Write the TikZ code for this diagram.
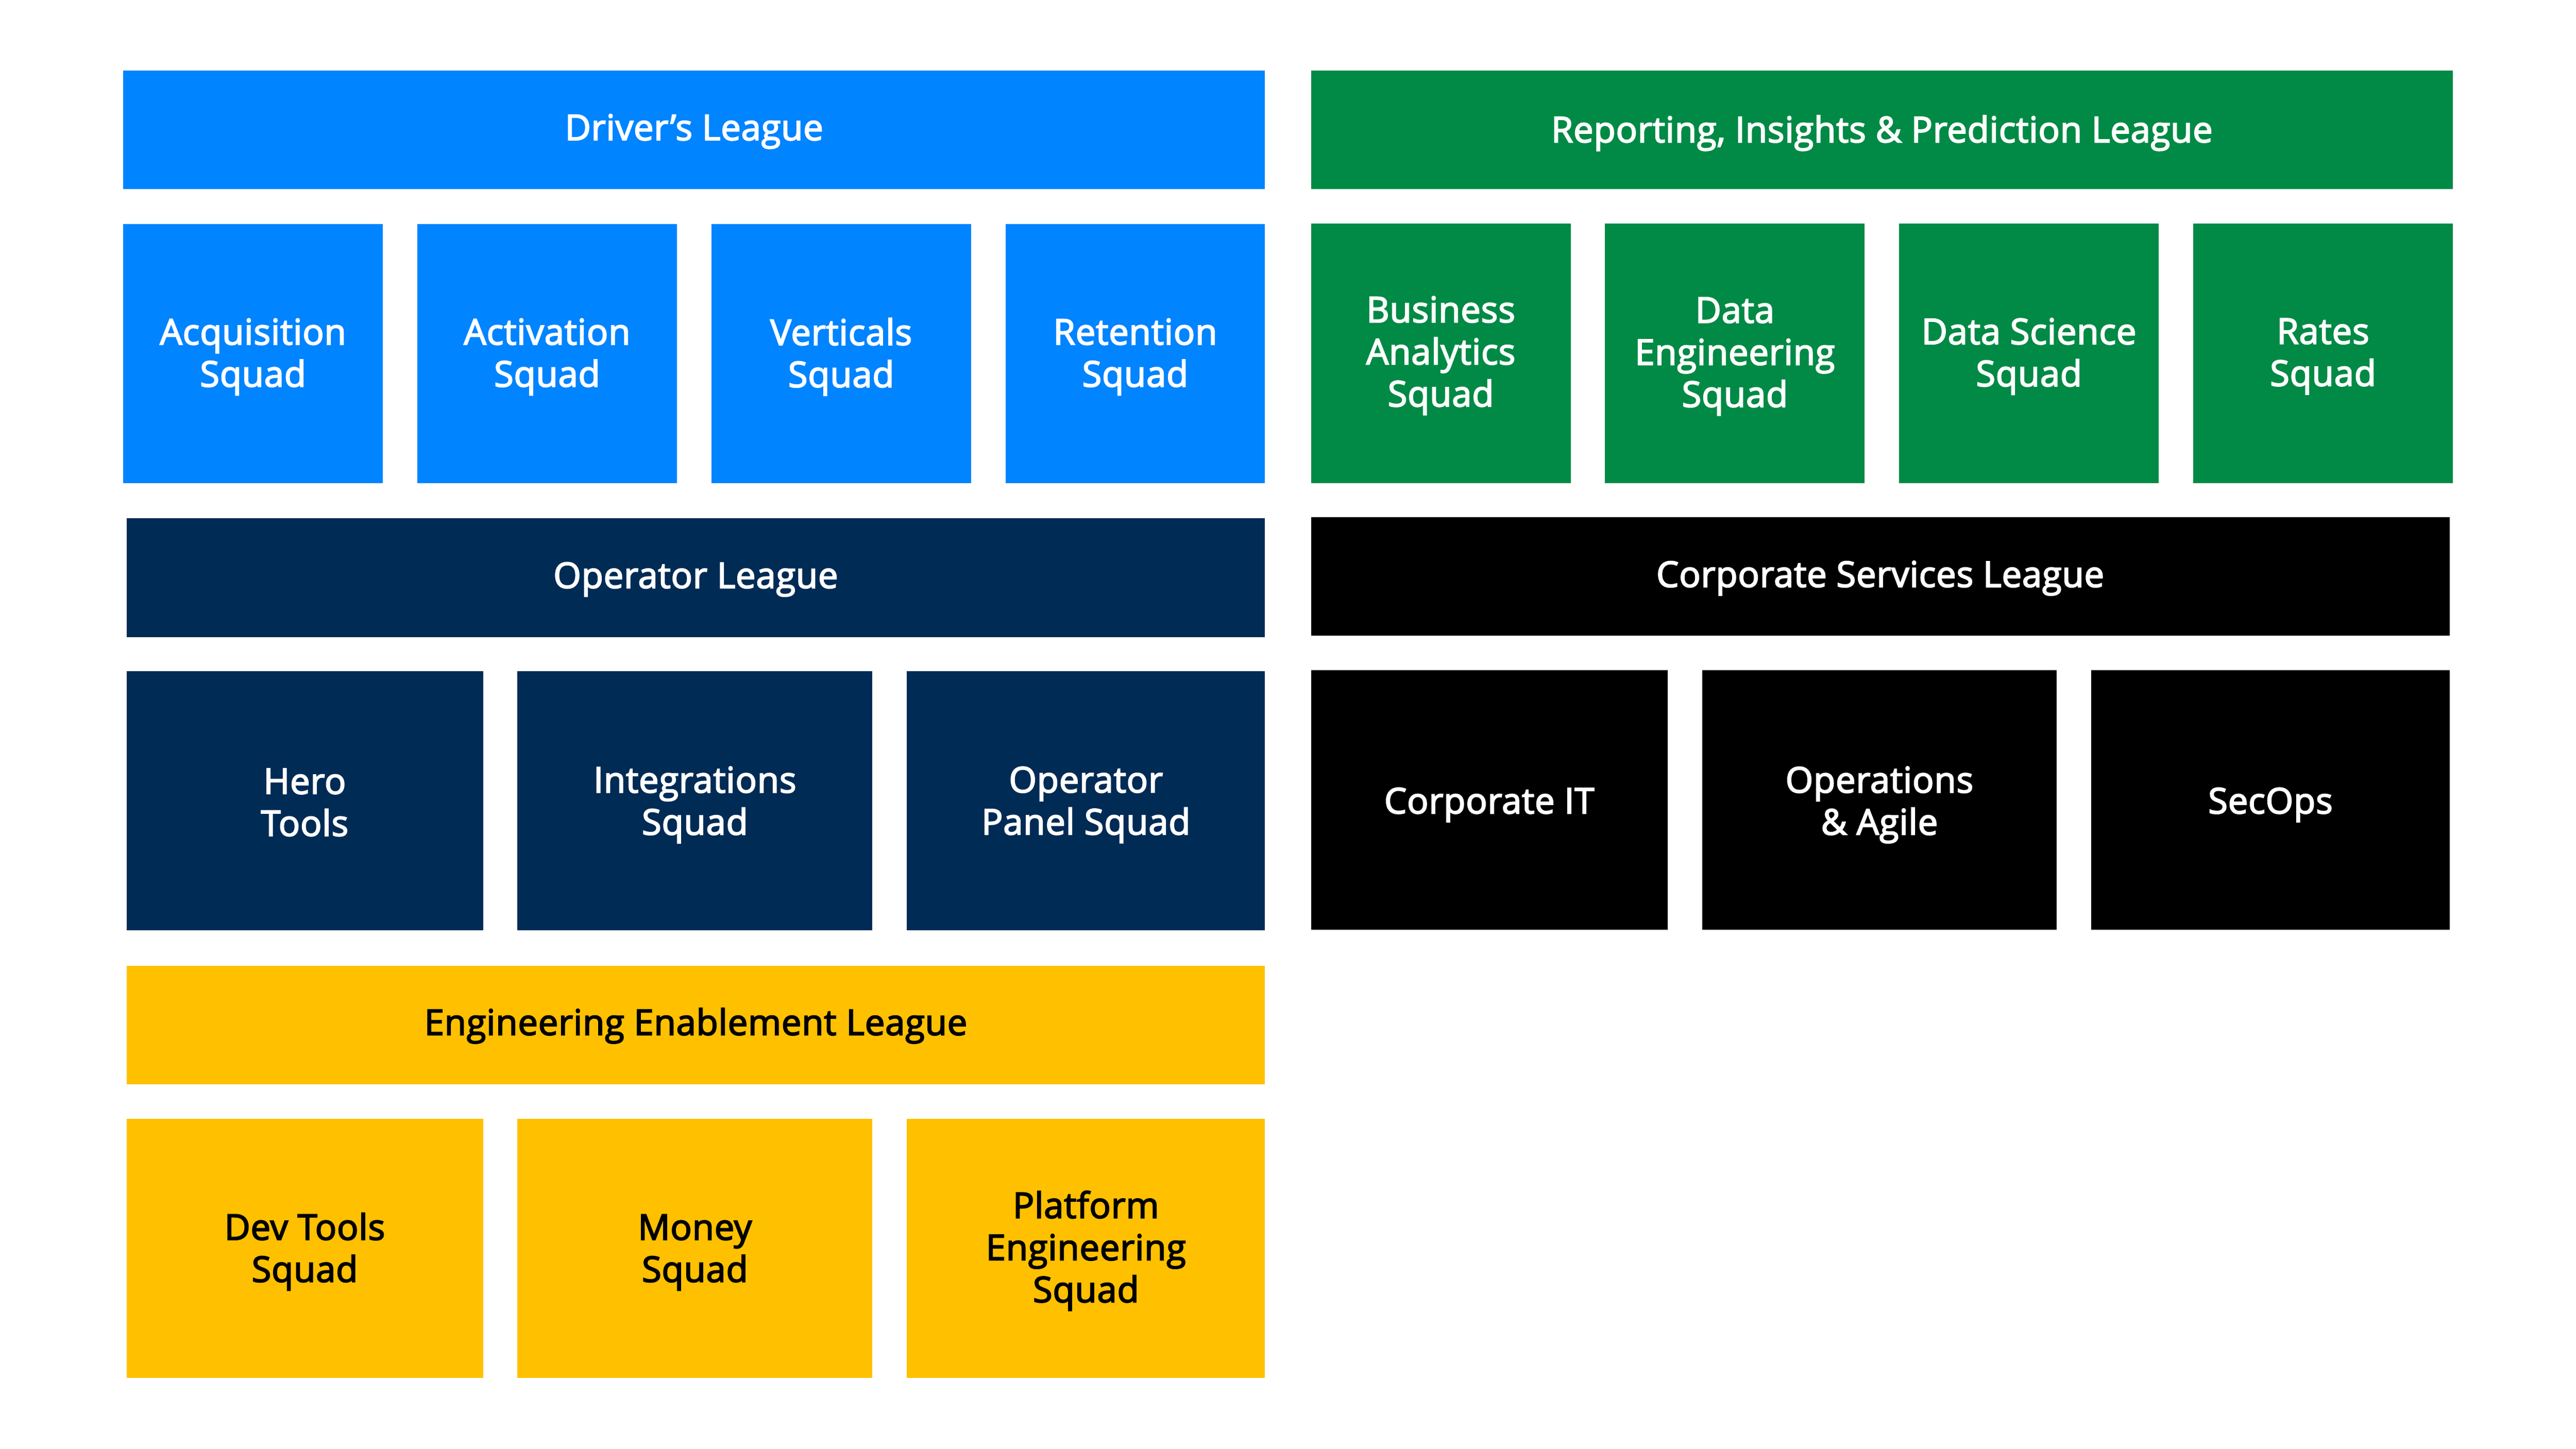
\documentclass[tikz,border=0pt]{standalone}
\usepackage{fontspec}
\setmainfont{Open Sans}
\newfontfamily\boxfont{Open Sans}[FakeBold=3, LetterSpace=1.0]
\definecolor{drvblue}{HTML}{0084FF}
\definecolor{rptgreen}{HTML}{008A45}
\definecolor{opnavy}{HTML}{002B55}
\definecolor{engyellow}{HTML}{FFC000}
\definecolor{corpblack}{HTML}{000000}
\newlength\unitpx
\setlength\unitpx{0.025510cm}
% #1 name, #2-#5 box corners (x1,y1,x2,y2), #6 style, #7 text, #8 text drop
\newcommand\orgbox[8]{%
  \node[tile, #6, minimum width={(#4-#2)*\unitpx}, minimum height={(#5-#3)*\unitpx}]
    (#1) at ({(#2+#4)/2}, {-(#3+#5)/2}) {};
  \node[tiletext, #6] (#1-t) at ([yshift={-#8*\unitpx}]#1.center) {#7};}
\begin{document}
\begin{tikzpicture}[x=\unitpx, y=\unitpx,
  tile/.style={rectangle, inner sep=0pt, outer sep=0pt, draw=none},
  tiletext/.style={inner sep=0pt, outer sep=0pt, fill=none, align=center,
    font=\boxfont\fontsize{15.7}{18.6}\selectfont},
  drv/.style={fill=drvblue, text=white},
  rpt/.style={fill=rptgreen, text=white},
  opr/.style={fill=opnavy, text=white},
  eng/.style={fill=engyellow, text=black},
  corp/.style={fill=corpblack, text=white}]
\useasboundingbox[fill=white] (0,0) rectangle (1568,-882);
% Driver's League
\orgbox{drvl}{75}{43}{770}{115}{drv}{Driver’s League}{1}
\orgbox{acq}{75}{136.5}{233}{294}{drv}{Acquisition\\Squad}{2}
\orgbox{act}{254}{136.5}{412}{294}{drv}{Activation\\Squad}{2}
\orgbox{ver}{433}{136.5}{591}{294}{drv}{Verticals\\Squad}{2}
\orgbox{ret}{612}{136.5}{770}{294}{drv}{Retention\\Squad}{2}
% Reporting League
\orgbox{rptl}{798}{43}{1493}{115}{rpt}{Reporting, Insights \& Prediction League}{2}
\orgbox{bas}{798}{136}{956}{294}{rpt}{Business\\Analytics\\Squad}{1.5}
\orgbox{des}{977}{136}{1135}{294}{rpt}{Data\\Engineering\\Squad}{2}
\orgbox{dss}{1156}{136}{1314}{294}{rpt}{Data Science\\Squad}{2}
\orgbox{rat}{1335}{136}{1493}{294}{rpt}{Rates\\Squad}{2}
% Operator League
\orgbox{opl}{77}{315.5}{770}{388}{opr}{Operator League}{1}
\orgbox{her}{77}{408.5}{294}{566.5}{opr}{Hero\\Tools}{1}
\orgbox{int}{315}{408.5}{531}{566.5}{opr}{Integrations\\Squad}{2.5}
\orgbox{ops}{552}{408.5}{770}{566.5}{opr}{Operator\\Panel Squad}{2.5}
% Corporate Services League
\orgbox{csl}{798}{315}{1491}{387}{corp}{Corporate Services League}{1}
\orgbox{cit}{798}{408}{1015}{566}{corp}{Corporate IT}{3}
\orgbox{oag}{1036}{408}{1252}{566}{corp}{Operations\\\& Agile}{3}
\orgbox{sec}{1273}{408}{1491}{566}{corp}{SecOps}{3}
% Engineering Enablement League
\orgbox{eel}{77}{588}{770}{660}{eng}{Engineering Enablement League}{0.5}
\orgbox{dev}{77}{681}{294}{839}{eng}{Dev Tools\\Squad}{2}
\orgbox{mon}{315}{681}{531}{839}{eng}{Money\\Squad}{2.5}
\orgbox{pla}{552}{681}{770}{839}{eng}{Platform\\Engineering\\Squad}{1.5}
\end{tikzpicture}
\end{document}
